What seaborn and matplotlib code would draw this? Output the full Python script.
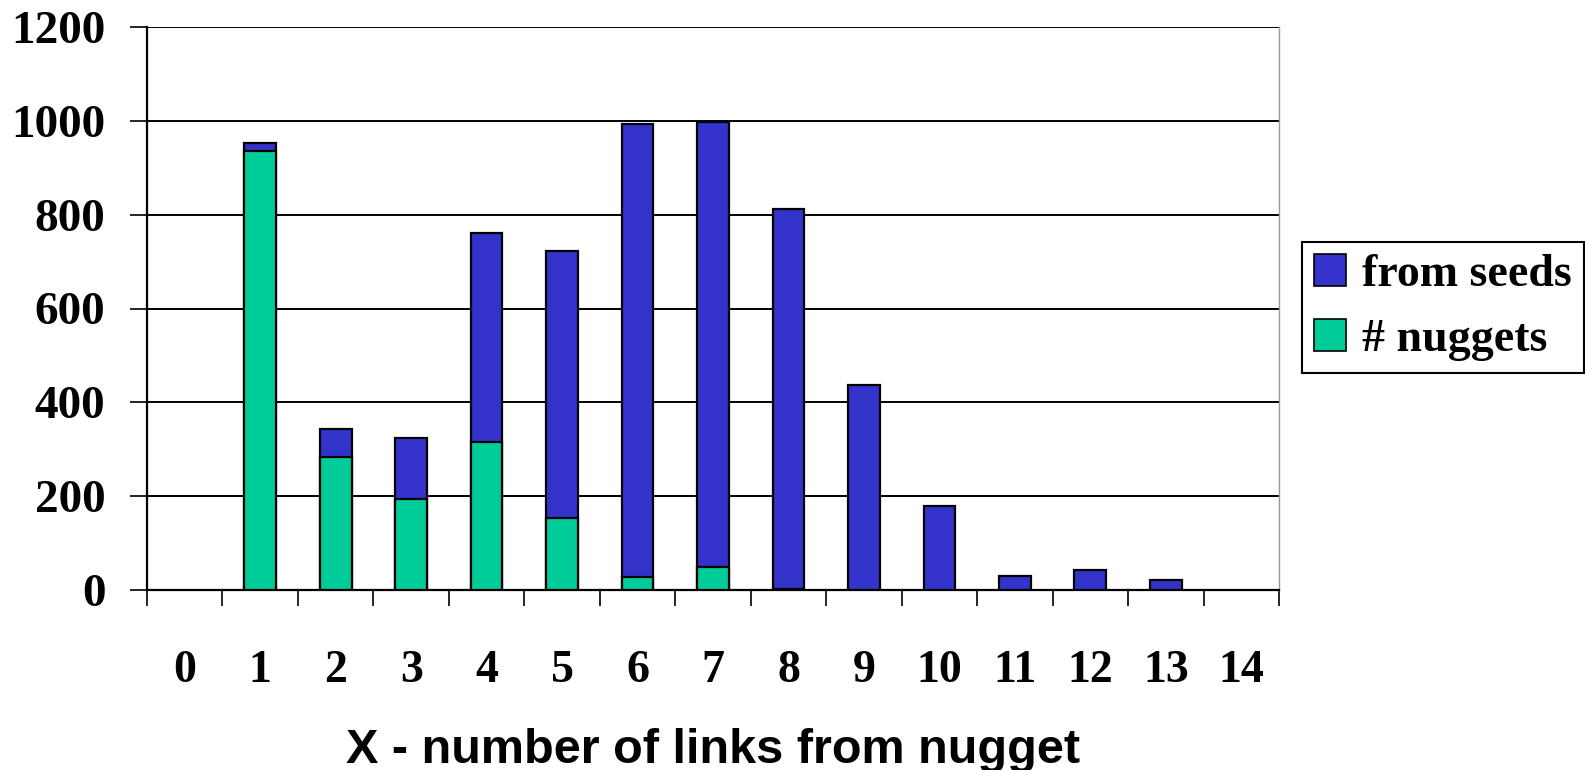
import numpy as np
import matplotlib
matplotlib.use('Agg')
import matplotlib.pyplot as plt
from matplotlib.patches import Patch
from matplotlib.ticker import MultipleLocator
import seaborn as sns

# data
links = list(range(15))
nuggets = [0, 936, 284, 195, 315, 153, 28, 50, 3, 0, 0, 0, 0, 0, 0]
from_seeds = [0, 17, 60, 128, 446, 570, 965, 947, 810, 438, 179, 30, 43, 22, 0]
y_ticks = [0, 200, 400, 600, 800, 1000, 1200]

blue = '#3333CC'
green = '#00CC99'

sns.set_style('white')
plt.rcParams['font.family'] = ['Liberation Serif', 'DejaVu Serif']
plt.rcParams['font.weight'] = 'bold'
plt.rcParams['text.color'] = 'black'
plt.rcParams['xtick.color'] = 'black'
plt.rcParams['ytick.color'] = 'black'
plt.rcParams['axes.labelcolor'] = 'black'

totals = [n + s for n, s in zip(nuggets, from_seeds)]

fig = plt.figure(figsize=(15.85, 7.7), dpi=100)
ax = fig.add_axes([147 / 1585, 1 - 590 / 770, (1279 - 147) / 1585, (590 - 27) / 770])

# stacked: draw total first (blue), nuggets on top of it from zero (green)
sns.barplot(x=links, y=totals, color=blue, width=0.42, saturation=1,
            edgecolor='black', linewidth=1.6, ax=ax, zorder=3)
sns.barplot(x=links, y=nuggets, color=green, width=0.42, saturation=1,
            edgecolor='black', linewidth=1.6, ax=ax, zorder=4)
# empty bars leave no mark
for p in ax.patches:
    if p.get_height() == 0:
        p.set_visible(False)

ax.set_xlim(-0.5, 14.5)
ax.set_ylim(0, 1200)
ax.set_yticks(y_ticks)
ax.yaxis.grid(True, color='black', linewidth=1.4, zorder=0)
ax.set_axisbelow(True)

for side in ['left', 'bottom']:
    ax.spines[side].set_color('black')
    ax.spines[side].set_linewidth(1.6)
ax.spines['top'].set_visible(False)
ax.spines['right'].set_color('#999999')
ax.spines['right'].set_linewidth(1.0)

ax.tick_params(axis='y', direction='out', length=12, width=1.2, pad=18,
               labelsize=34, left=True)
ax.xaxis.set_minor_locator(MultipleLocator(1, offset=0.5))
ax.tick_params(axis='x', which='minor', direction='out', length=11.5, width=1.2,
               bottom=True)
ax.tick_params(axis='x', which='major', length=0, pad=43, labelsize=33)
ax.set_xticks(links)
ax.set_xticklabels([str(v) for v in links])
for lab in ax.get_xticklabels() + ax.get_yticklabels():
    lab.set_fontweight('bold')

ax.set_xlabel('X - number of links from nugget', family=['Liberation Sans', 'DejaVu Sans'],
              fontweight='bold', fontsize=35, labelpad=26)
ax.set_ylabel('')

handles = [Patch(facecolor=blue, edgecolor='black', linewidth=1.2, label='from seeds'),
           Patch(facecolor=green, edgecolor='black', linewidth=1.2, label='# nuggets')]
leg = fig.legend(handles=handles, loc='upper left', bbox_to_anchor=(1302 / 1585, 1 - 242 / 770),
                 frameon=True, fancybox=False, framealpha=1, edgecolor='black',
                 borderaxespad=0, borderpad=0.26, handlelength=0.7, handleheight=0.7,
                 handletextpad=0.35, labelspacing=0.5, prop={'size': 33, 'weight': 'bold'})
leg.get_frame().set_linewidth(1.5)

fig.savefig('out.png', dpi=100)
